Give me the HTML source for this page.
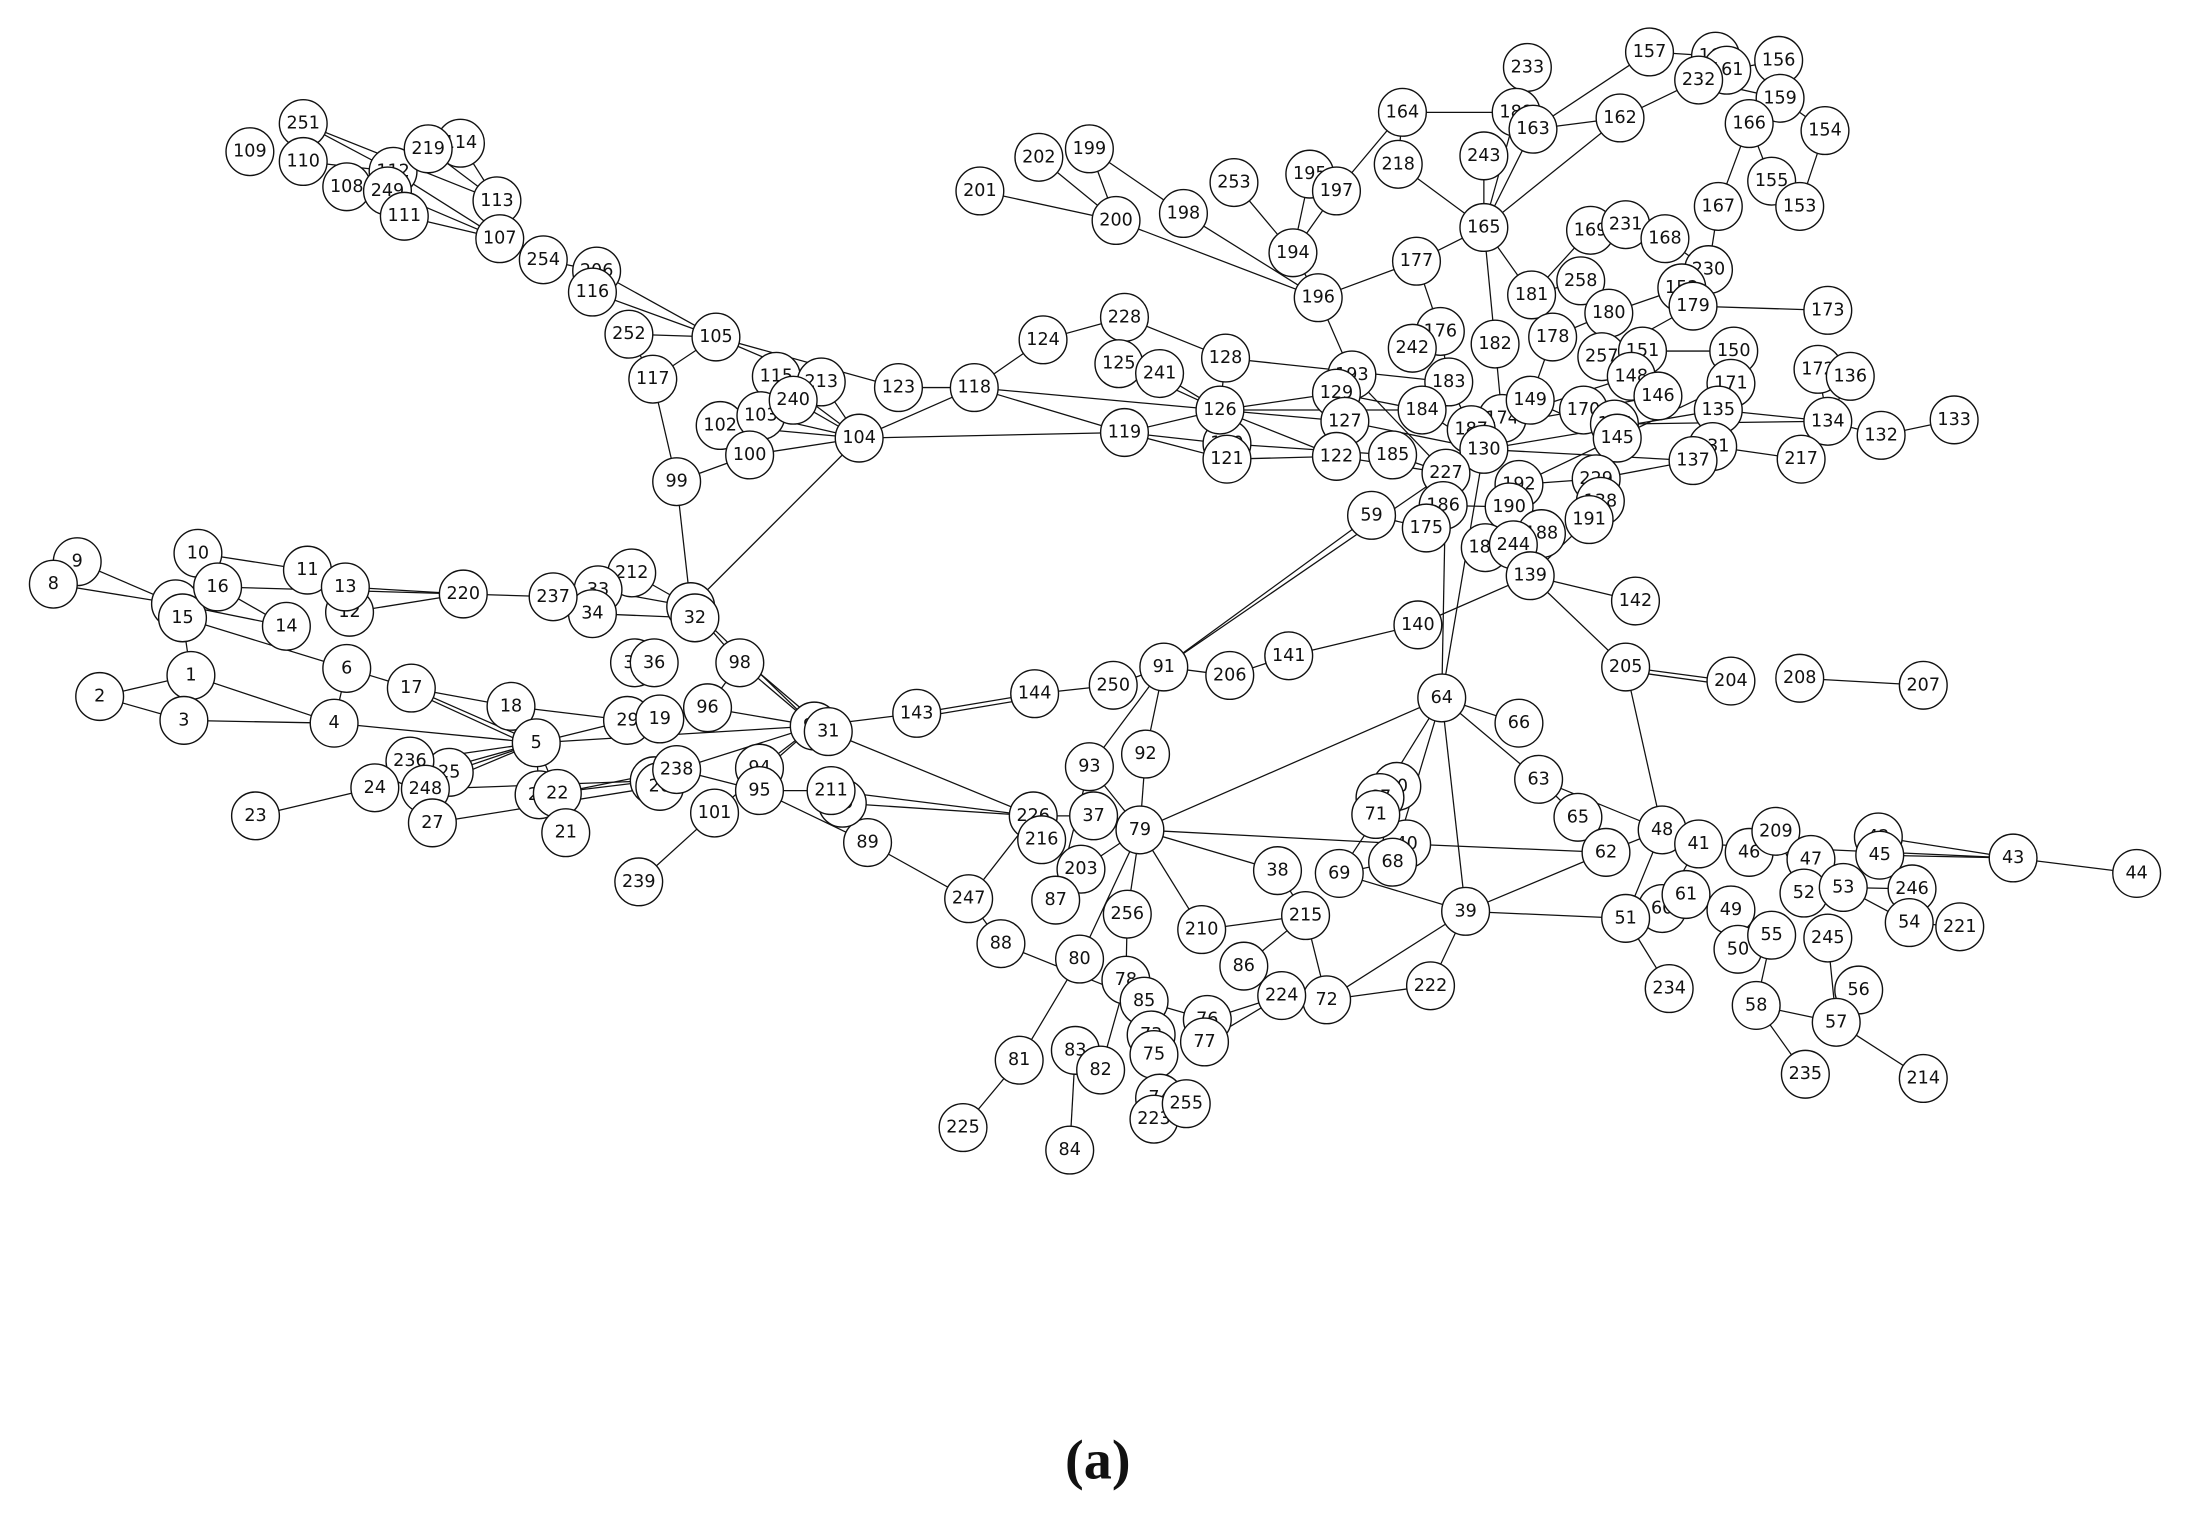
<!DOCTYPE html>
<html><head><meta charset="utf-8"><style>
html,body{margin:0;padding:0;background:#fff;}
svg{display:block}
text{font-family:"DejaVu Sans","Liberation Sans",sans-serif;font-size:12.5px;text-anchor:middle;dominant-baseline:central;fill:#111}
circle{fill:#fff;stroke:#111;stroke-width:1}
line{stroke:#111;stroke-width:0.9}
</style></head><body>
<svg width="2190" height="1525" viewBox="0 0 1560 1086" preserveAspectRatio="none">
<g>
<line x1="216" y1="88" x2="280" y2="122"/><line x1="216" y1="88" x2="354" y2="143"/><line x1="216" y1="115" x2="280" y2="122"/>
<line x1="247" y1="133" x2="280" y2="122"/><line x1="280" y1="122" x2="356" y2="170"/><line x1="276" y1="136" x2="356" y2="170"/>
<line x1="288" y1="154" x2="356" y2="170"/><line x1="305" y1="106" x2="354" y2="143"/><line x1="328" y1="102" x2="354" y2="143"/>
<line x1="305" y1="106" x2="328" y2="102"/><line x1="354" y1="143" x2="356" y2="170"/><line x1="356" y1="170" x2="387" y2="185"/>
<line x1="387" y1="185" x2="425" y2="193"/><line x1="425" y1="193" x2="510" y2="240"/><line x1="422" y1="208" x2="510" y2="240"/>
<line x1="448" y1="238" x2="510" y2="240"/><line x1="448" y1="238" x2="465" y2="270"/><line x1="510" y1="240" x2="465" y2="270"/>
<line x1="510" y1="240" x2="585" y2="272"/><line x1="510" y1="240" x2="640" y2="276"/><line x1="465" y1="270" x2="482" y2="343"/>
<line x1="482" y1="343" x2="492" y2="432"/><line x1="482" y1="343" x2="534" y2="324"/><line x1="513" y1="303" x2="542" y2="296"/>
<line x1="513" y1="303" x2="612" y2="312"/><line x1="534" y1="324" x2="612" y2="312"/><line x1="542" y1="296" x2="612" y2="312"/>
<line x1="553" y1="268" x2="612" y2="312"/><line x1="585" y1="272" x2="612" y2="312"/><line x1="565" y1="285" x2="612" y2="312"/>
<line x1="612" y1="312" x2="694" y2="276"/><line x1="612" y1="312" x2="801" y2="308"/><line x1="612" y1="312" x2="492" y2="432"/>
<line x1="640" y1="276" x2="694" y2="276"/><line x1="694" y1="276" x2="743" y2="242"/><line x1="743" y1="242" x2="801" y2="226"/>
<line x1="801" y1="226" x2="797" y2="259"/><line x1="801" y1="226" x2="873" y2="255"/><line x1="694" y1="276" x2="869" y2="292"/>
<line x1="694" y1="276" x2="801" y2="308"/><line x1="801" y1="308" x2="869" y2="292"/><line x1="801" y1="308" x2="874" y2="316"/>
<line x1="801" y1="308" x2="874" y2="327"/><line x1="797" y1="259" x2="869" y2="292"/><line x1="826" y1="266" x2="869" y2="292"/>
<line x1="873" y1="255" x2="869" y2="292"/><line x1="869" y1="292" x2="952" y2="280"/><line x1="869" y1="292" x2="958" y2="300"/>
<line x1="869" y1="292" x2="952" y2="325"/><line x1="869" y1="292" x2="1013" y2="292"/><line x1="873" y1="255" x2="1032" y2="272"/>
<line x1="874" y1="316" x2="992" y2="324"/><line x1="874" y1="327" x2="952" y2="325"/>
<line x1="698" y1="136" x2="795" y2="157"/><line x1="740" y1="112" x2="795" y2="157"/><line x1="776" y1="106" x2="795" y2="157"/>
<line x1="795" y1="157" x2="939" y2="212"/><line x1="843" y1="152" x2="939" y2="212"/><line x1="879" y1="130" x2="921" y2="180"/>
<line x1="933" y1="124" x2="921" y2="180"/><line x1="952" y1="136" x2="921" y2="180"/><line x1="933" y1="124" x2="952" y2="136"/>
<line x1="776" y1="106" x2="843" y2="152"/><line x1="921" y1="180" x2="939" y2="212"/><line x1="939" y1="212" x2="963" y2="267"/>
<line x1="939" y1="212" x2="1009" y2="186"/><line x1="999" y1="80" x2="1080" y2="80"/><line x1="999" y1="80" x2="996" y2="117"/>
<line x1="999" y1="80" x2="952" y2="136"/><line x1="996" y1="117" x2="1057" y2="162"/><line x1="1088" y1="48" x2="1080" y2="80"/>
<line x1="1080" y1="80" x2="1092" y2="92"/><line x1="1175" y1="37" x2="1092" y2="92"/><line x1="1175" y1="37" x2="1222" y2="40"/>
<line x1="1154" y1="84" x2="1092" y2="92"/><line x1="1154" y1="84" x2="1210" y2="57"/><line x1="1210" y1="57" x2="1222" y2="40"/>
<line x1="1210" y1="57" x2="1268" y2="70"/><line x1="1230" y1="50" x2="1267" y2="43"/><line x1="1267" y1="43" x2="1268" y2="70"/>
<line x1="1268" y1="70" x2="1246" y2="88"/><line x1="1268" y1="70" x2="1300" y2="93"/><line x1="1300" y1="93" x2="1282" y2="147"/>
<line x1="1246" y1="88" x2="1262" y2="129"/><line x1="1262" y1="129" x2="1282" y2="147"/><line x1="1246" y1="88" x2="1224" y2="147"/>
<line x1="1224" y1="147" x2="1217" y2="192"/><line x1="1217" y1="192" x2="1186" y2="170"/><line x1="1217" y1="192" x2="1206" y2="218"/>
<line x1="1186" y1="170" x2="1158" y2="160"/><line x1="1158" y1="160" x2="1133" y2="164"/><line x1="1133" y1="164" x2="1091" y2="210"/>
<line x1="1092" y1="92" x2="1057" y2="162"/><line x1="1057" y1="111" x2="1057" y2="162"/><line x1="1080" y1="80" x2="1057" y2="162"/>
<line x1="1057" y1="162" x2="1091" y2="210"/><line x1="1057" y1="162" x2="1065" y2="245"/><line x1="1057" y1="162" x2="1154" y2="84"/>
<line x1="1009" y1="186" x2="1057" y2="162"/><line x1="1009" y1="186" x2="1026" y2="236"/><line x1="1026" y1="236" x2="1006" y2="248"/>
<line x1="1026" y1="236" x2="1032" y2="272"/><line x1="1091" y1="210" x2="1126" y2="200"/><line x1="1126" y1="200" x2="1146" y2="223"/>
<line x1="1146" y1="223" x2="1106" y2="240"/><line x1="1146" y1="223" x2="1198" y2="205"/><line x1="1206" y1="218" x2="1302" y2="221"/>
<line x1="1206" y1="218" x2="1141" y2="254"/><line x1="1141" y1="254" x2="1170" y2="250"/><line x1="1170" y1="250" x2="1235" y2="250"/>
<line x1="1235" y1="250" x2="1233" y2="273"/><line x1="1233" y1="273" x2="1224" y2="292"/><line x1="1224" y1="292" x2="1302" y2="300"/>
<line x1="1302" y1="300" x2="1340" y2="310"/><line x1="1340" y1="310" x2="1392" y2="299"/><line x1="1295" y1="263" x2="1302" y2="300"/>
<line x1="1318" y1="268" x2="1302" y2="300"/><line x1="1302" y1="300" x2="1283" y2="327"/><line x1="1224" y1="292" x2="1220" y2="318"/>
<line x1="1220" y1="318" x2="1283" y2="327"/><line x1="1206" y1="328" x2="1137" y2="341"/><line x1="1137" y1="341" x2="1140" y2="357"/>
<line x1="1140" y1="357" x2="1132" y2="370"/><line x1="1137" y1="341" x2="1082" y2="345"/><line x1="1082" y1="345" x2="1075" y2="361"/>
<line x1="1075" y1="361" x2="1028" y2="360"/><line x1="1028" y1="360" x2="1016" y2="376"/><line x1="1016" y1="376" x2="977" y2="367"/>
<line x1="977" y1="367" x2="829" y2="475"/><line x1="1030" y1="337" x2="829" y2="475"/><line x1="1030" y1="337" x2="1027" y2="497"/>
<line x1="1057" y1="320" x2="1027" y2="497"/><line x1="1090" y1="410" x2="1010" y2="445"/>
<line x1="1010" y1="445" x2="918" y2="467"/><line x1="918" y1="467" x2="876" y2="481"/><line x1="876" y1="481" x2="829" y2="475"/>
<line x1="829" y1="475" x2="793" y2="488"/><line x1="793" y1="488" x2="737" y2="494"/><line x1="737" y1="494" x2="653" y2="508"/>
<line x1="737" y1="497" x2="653" y2="511"/><line x1="653" y1="508" x2="580" y2="517"/><line x1="829" y1="475" x2="816" y2="537"/>
<line x1="816" y1="537" x2="812" y2="591"/><line x1="776" y1="546" x2="812" y2="591"/><line x1="829" y1="475" x2="776" y2="546"/>
<line x1="779" y1="581" x2="812" y2="591"/><line x1="736" y1="581" x2="779" y2="581"/><line x1="812" y1="591" x2="910" y2="620"/>
<line x1="812" y1="591" x2="1002" y2="601"/><line x1="812" y1="591" x2="856" y2="662"/><line x1="812" y1="591" x2="803" y2="651"/>
<line x1="812" y1="591" x2="769" y2="683"/><line x1="812" y1="591" x2="1027" y2="497"/><line x1="803" y1="651" x2="802" y2="698"/>
<line x1="802" y1="698" x2="815" y2="713"/><line x1="769" y1="683" x2="726" y2="755"/><line x1="726" y1="755" x2="686" y2="803"/>
<line x1="766" y1="748" x2="762" y2="819"/><line x1="815" y1="713" x2="822" y2="751"/><line x1="815" y1="713" x2="860" y2="726"/>
<line x1="860" y1="726" x2="913" y2="709"/><line x1="858" y1="742" x2="913" y2="709"/><line x1="913" y1="709" x2="945" y2="712"/>
<line x1="945" y1="712" x2="1019" y2="702"/><line x1="1019" y1="702" x2="1044" y2="649"/><line x1="945" y1="712" x2="1044" y2="649"/>
<line x1="1044" y1="649" x2="1144" y2="607"/><line x1="1044" y1="649" x2="1158" y2="654"/><line x1="1144" y1="607" x2="1184" y2="591"/>
<line x1="1184" y1="591" x2="1096" y2="555"/><line x1="1096" y1="555" x2="1124" y2="582"/><line x1="1124" y1="582" x2="1144" y2="607"/>
<line x1="1184" y1="591" x2="1158" y2="475"/><line x1="1158" y1="475" x2="1090" y2="410"/><line x1="1158" y1="475" x2="1233" y2="485"/>
<line x1="1160" y1="478" x2="1233" y2="488"/><line x1="1282" y1="483" x2="1370" y2="488"/><line x1="1090" y1="410" x2="1165" y2="428"/>
<line x1="1210" y1="601" x2="1434" y2="611"/><line x1="1434" y1="611" x2="1522" y2="622"/><line x1="1338" y1="596" x2="1434" y2="611"/>
<line x1="1339" y1="609" x2="1434" y2="611"/><line x1="1210" y1="601" x2="1184" y2="647"/><line x1="1184" y1="591" x2="1158" y2="654"/>
<line x1="1201" y1="637" x2="1184" y2="647"/><line x1="1201" y1="637" x2="1233" y2="648"/><line x1="1233" y1="648" x2="1262" y2="666"/>
<line x1="1262" y1="666" x2="1238" y2="676"/><line x1="1262" y1="666" x2="1251" y2="716"/><line x1="1251" y1="716" x2="1308" y2="728"/>
<line x1="1308" y1="728" x2="1324" y2="705"/><line x1="1308" y1="728" x2="1370" y2="768"/><line x1="1308" y1="728" x2="1302" y2="668"/>
<line x1="1251" y1="716" x2="1286" y2="765"/><line x1="1158" y1="654" x2="1189" y2="704"/><line x1="1265" y1="592" x2="1246" y2="607"/>
<line x1="1265" y1="592" x2="1285" y2="636"/><line x1="1290" y1="612" x2="1285" y2="636"/><line x1="1313" y1="632" x2="1285" y2="636"/>
<line x1="1313" y1="632" x2="1362" y2="633"/><line x1="1362" y1="633" x2="1360" y2="657"/><line x1="1360" y1="657" x2="1396" y2="660"/>
<line x1="1313" y1="632" x2="1360" y2="657"/><line x1="1002" y1="601" x2="1144" y2="607"/><line x1="1044" y1="649" x2="954" y2="622"/>
<line x1="910" y1="620" x2="930" y2="652"/><line x1="930" y1="652" x2="886" y2="688"/><line x1="930" y1="652" x2="945" y2="712"/>
<line x1="856" y1="662" x2="930" y2="652"/><line x1="886" y1="688" x2="913" y2="709"/><line x1="954" y1="622" x2="995" y2="560"/>
<line x1="992" y1="614" x2="954" y2="622"/><line x1="1027" y1="497" x2="1082" y2="515"/><line x1="1027" y1="497" x2="1096" y2="555"/>
<line x1="1027" y1="497" x2="983" y2="568"/><line x1="1027" y1="497" x2="992" y2="614"/><line x1="1027" y1="497" x2="1044" y2="649"/>
<line x1="55" y1="400" x2="125" y2="430"/><line x1="38" y1="416" x2="125" y2="430"/><line x1="141" y1="394" x2="155" y2="418"/>
<line x1="141" y1="394" x2="219" y2="406"/><line x1="155" y1="418" x2="204" y2="446"/><line x1="219" y1="406" x2="246" y2="418"/>
<line x1="246" y1="418" x2="330" y2="423"/><line x1="155" y1="418" x2="330" y2="423"/><line x1="330" y1="423" x2="394" y2="425"/>
<line x1="249" y1="436" x2="330" y2="423"/><line x1="394" y1="425" x2="426" y2="420"/><line x1="394" y1="425" x2="422" y2="437"/>
<line x1="450" y1="408" x2="492" y2="432"/><line x1="426" y1="420" x2="492" y2="432"/><line x1="422" y1="437" x2="495" y2="440"/>
<line x1="125" y1="430" x2="204" y2="446"/><line x1="130" y1="440" x2="247" y2="476"/><line x1="136" y1="481" x2="130" y2="440"/>
<line x1="71" y1="496" x2="136" y2="481"/><line x1="71" y1="496" x2="131" y2="513"/><line x1="136" y1="481" x2="238" y2="515"/>
<line x1="131" y1="513" x2="238" y2="515"/><line x1="247" y1="476" x2="238" y2="515"/><line x1="247" y1="476" x2="293" y2="490"/>
<line x1="293" y1="490" x2="364" y2="503"/><line x1="293" y1="490" x2="382" y2="529"/><line x1="297" y1="494" x2="382" y2="533"/>
<line x1="364" y1="503" x2="382" y2="529"/><line x1="238" y1="515" x2="382" y2="529"/><line x1="364" y1="503" x2="447" y2="513"/>
<line x1="382" y1="529" x2="447" y2="513"/><line x1="382" y1="529" x2="292" y2="542"/><line x1="382" y1="529" x2="320" y2="550"/>
<line x1="382" y1="529" x2="303" y2="562"/><line x1="382" y1="529" x2="267" y2="561"/><line x1="267" y1="561" x2="182" y2="581"/>
<line x1="292" y1="542" x2="308" y2="586"/><line x1="382" y1="529" x2="384" y2="566"/><line x1="382" y1="529" x2="397" y2="565"/>
<line x1="382" y1="529" x2="580" y2="517"/><line x1="397" y1="565" x2="403" y2="593"/><line x1="384" y1="566" x2="466" y2="556"/>
<line x1="397" y1="565" x2="482" y2="548"/><line x1="303" y1="562" x2="466" y2="556"/><line x1="308" y1="586" x2="470" y2="560"/>
<line x1="447" y1="513" x2="470" y2="512"/><line x1="504" y1="504" x2="470" y2="512"/><line x1="504" y1="504" x2="527" y2="472"/>
<line x1="504" y1="504" x2="580" y2="517"/><line x1="492" y1="432" x2="527" y2="472"/><line x1="492" y1="432" x2="580" y2="517"/>
<line x1="527" y1="472" x2="580" y2="517"/><line x1="530" y1="470" x2="590" y2="521"/><line x1="580" y1="517" x2="590" y2="521"/>
<line x1="590" y1="521" x2="736" y2="581"/><line x1="541" y1="547" x2="580" y2="517"/><line x1="541" y1="563" x2="541" y2="547"/>
<line x1="541" y1="563" x2="592" y2="563"/><line x1="592" y1="563" x2="736" y2="581"/><line x1="600" y1="572" x2="736" y2="581"/>
<line x1="509" y1="579" x2="455" y2="628"/><line x1="509" y1="579" x2="580" y2="517"/><line x1="482" y1="548" x2="541" y2="563"/>
<line x1="482" y1="548" x2="580" y2="517"/><line x1="541" y1="563" x2="618" y2="600"/><line x1="618" y1="600" x2="690" y2="640"/>
<line x1="690" y1="640" x2="736" y2="581"/><line x1="752" y1="641" x2="776" y2="546"/><line x1="713" y1="672" x2="815" y2="713"/>
<line x1="713" y1="672" x2="690" y2="640"/><line x1="742" y1="598" x2="770" y2="619"/><line x1="770" y1="619" x2="812" y2="591"/>
<line x1="845" y1="786" x2="822" y2="751"/><line x1="822" y1="797" x2="815" y2="713"/><line x1="784" y1="762" x2="802" y2="698"/>
<line x1="1030" y1="337" x2="1057" y2="320"/><line x1="1030" y1="337" x2="963" y2="267"/><line x1="992" y1="324" x2="1030" y2="337"/>
<line x1="1013" y1="292" x2="1057" y2="320"/><line x1="1048" y1="306" x2="1128" y2="292"/><line x1="1090" y1="285" x2="1152" y2="312"/>
<line x1="1070" y1="298" x2="1162" y2="268"/><line x1="1057" y1="320" x2="1224" y2="292"/><line x1="1057" y1="320" x2="1206" y2="328"/>
<line x1="1082" y1="345" x2="1233" y2="273"/><line x1="1128" y1="292" x2="1181" y2="282"/><line x1="1150" y1="302" x2="1302" y2="300"/>
<line x1="1106" y1="240" x2="1090" y2="285"/><line x1="1065" y1="245" x2="1070" y2="298"/><line x1="1032" y1="272" x2="1048" y2="306"/>
<line x1="1098" y1="380" x2="1058" y2="390"/><line x1="1078" y1="388" x2="1090" y2="410"/><line x1="1132" y1="370" x2="1090" y2="410"/>
<line x1="958" y1="300" x2="1057" y2="320"/><line x1="952" y1="280" x2="1013" y2="292"/><line x1="952" y1="325" x2="1030" y2="337"/>
</g>
<g>
<circle cx="178" cy="108" r="17"/><text x="178" y="108">109</text>
<circle cx="216" cy="88" r="17"/><text x="216" y="88">251</text>
<circle cx="216" cy="115" r="17"/><text x="216" y="115">110</text>
<circle cx="247" cy="133" r="17"/><text x="247" y="133">108</text>
<circle cx="280" cy="122" r="17"/><text x="280" y="122">112</text>
<circle cx="276" cy="136" r="17"/><text x="276" y="136">249</text>
<circle cx="288" cy="154" r="17"/><text x="288" y="154">111</text>
<circle cx="328" cy="102" r="17"/><text x="328" y="102">114</text>
<circle cx="305" cy="106" r="17"/><text x="305" y="106">219</text>
<circle cx="354" cy="143" r="17"/><text x="354" y="143">113</text>
<circle cx="356" cy="170" r="17"/><text x="356" y="170">107</text>
<circle cx="387" cy="185" r="17"/><text x="387" y="185">254</text>
<circle cx="425" cy="193" r="17"/><text x="425" y="193">206</text>
<circle cx="422" cy="208" r="17"/><text x="422" y="208">116</text>
<circle cx="448" cy="238" r="17"/><text x="448" y="238">252</text>
<circle cx="510" cy="240" r="17"/><text x="510" y="240">105</text>
<circle cx="465" cy="270" r="17"/><text x="465" y="270">117</text>
<circle cx="553" cy="268" r="17"/><text x="553" y="268">115</text>
<circle cx="585" cy="272" r="17"/><text x="585" y="272">213</text>
<circle cx="513" cy="303" r="17"/><text x="513" y="303">102</text>
<circle cx="542" cy="296" r="17"/><text x="542" y="296">103</text>
<circle cx="565" cy="285" r="17"/><text x="565" y="285">240</text>
<circle cx="534" cy="324" r="17"/><text x="534" y="324">100</text>
<circle cx="612" cy="312" r="17"/><text x="612" y="312">104</text>
<circle cx="640" cy="276" r="17"/><text x="640" y="276">123</text>
<circle cx="694" cy="276" r="17"/><text x="694" y="276">118</text>
<circle cx="743" cy="242" r="17"/><text x="743" y="242">124</text>
<circle cx="801" cy="226" r="17"/><text x="801" y="226">228</text>
<circle cx="797" cy="259" r="17"/><text x="797" y="259">125</text>
<circle cx="826" cy="266" r="17"/><text x="826" y="266">241</text>
<circle cx="873" cy="255" r="17"/><text x="873" y="255">128</text>
<circle cx="801" cy="308" r="17"/><text x="801" y="308">119</text>
<circle cx="874" cy="316" r="17"/><text x="874" y="316">120</text>
<circle cx="874" cy="327" r="17"/><text x="874" y="327">121</text>
<circle cx="869" cy="292" r="17"/><text x="869" y="292">126</text>
<circle cx="482" cy="343" r="17"/><text x="482" y="343">99</text>
<circle cx="698" cy="136" r="17"/><text x="698" y="136">201</text>
<circle cx="740" cy="112" r="17"/><text x="740" y="112">202</text>
<circle cx="776" cy="106" r="17"/><text x="776" y="106">199</text>
<circle cx="795" cy="157" r="17"/><text x="795" y="157">200</text>
<circle cx="843" cy="152" r="17"/><text x="843" y="152">198</text>
<circle cx="879" cy="130" r="17"/><text x="879" y="130">253</text>
<circle cx="933" cy="124" r="17"/><text x="933" y="124">195</text>
<circle cx="952" cy="136" r="17"/><text x="952" y="136">197</text>
<circle cx="921" cy="180" r="17"/><text x="921" y="180">194</text>
<circle cx="939" cy="212" r="17"/><text x="939" y="212">196</text>
<circle cx="999" cy="80" r="17"/><text x="999" y="80">164</text>
<circle cx="996" cy="117" r="17"/><text x="996" y="117">218</text>
<circle cx="1088" cy="48" r="17"/><text x="1088" y="48">233</text>
<circle cx="1080" cy="80" r="17"/><text x="1080" y="80">188</text>
<circle cx="1092" cy="92" r="17"/><text x="1092" y="92">163</text>
<circle cx="1175" cy="37" r="17"/><text x="1175" y="37">157</text>
<circle cx="1154" cy="84" r="17"/><text x="1154" y="84">162</text>
<circle cx="1222" cy="40" r="17"/><text x="1222" y="40">160</text>
<circle cx="1230" cy="50" r="17"/><text x="1230" y="50">161</text>
<circle cx="1210" cy="57" r="17"/><text x="1210" y="57">232</text>
<circle cx="1267" cy="43" r="17"/><text x="1267" y="43">156</text>
<circle cx="1268" cy="70" r="17"/><text x="1268" y="70">159</text>
<circle cx="1246" cy="88" r="17"/><text x="1246" y="88">166</text>
<circle cx="1300" cy="93" r="17"/><text x="1300" y="93">154</text>
<circle cx="1262" cy="129" r="17"/><text x="1262" y="129">155</text>
<circle cx="1282" cy="147" r="17"/><text x="1282" y="147">153</text>
<circle cx="1224" cy="147" r="17"/><text x="1224" y="147">167</text>
<circle cx="1057" cy="111" r="17"/><text x="1057" y="111">243</text>
<circle cx="1057" cy="162" r="17"/><text x="1057" y="162">165</text>
<circle cx="1009" cy="186" r="17"/><text x="1009" y="186">177</text>
<circle cx="1133" cy="164" r="17"/><text x="1133" y="164">169</text>
<circle cx="1158" cy="160" r="17"/><text x="1158" y="160">231</text>
<circle cx="1186" cy="170" r="17"/><text x="1186" y="170">168</text>
<circle cx="1217" cy="192" r="17"/><text x="1217" y="192">230</text>
<circle cx="1091" cy="210" r="17"/><text x="1091" y="210">181</text>
<circle cx="1126" cy="200" r="17"/><text x="1126" y="200">258</text>
<circle cx="1198" cy="205" r="17"/><text x="1198" y="205">152</text>
<circle cx="1206" cy="218" r="17"/><text x="1206" y="218">179</text>
<circle cx="1146" cy="223" r="17"/><text x="1146" y="223">180</text>
<circle cx="1302" cy="221" r="17"/><text x="1302" y="221">173</text>
<circle cx="1026" cy="236" r="17"/><text x="1026" y="236">176</text>
<circle cx="1006" cy="248" r="17"/><text x="1006" y="248">242</text>
<circle cx="1065" cy="245" r="17"/><text x="1065" y="245">182</text>
<circle cx="1106" cy="240" r="17"/><text x="1106" y="240">178</text>
<circle cx="1141" cy="254" r="17"/><text x="1141" y="254">257</text>
<circle cx="1170" cy="250" r="17"/><text x="1170" y="250">151</text>
<circle cx="1235" cy="250" r="17"/><text x="1235" y="250">150</text>
<circle cx="1162" cy="268" r="17"/><text x="1162" y="268">148</text>
<circle cx="1181" cy="282" r="17"/><text x="1181" y="282">146</text>
<circle cx="1233" cy="273" r="17"/><text x="1233" y="273">171</text>
<circle cx="1295" cy="263" r="17"/><text x="1295" y="263">172</text>
<circle cx="1318" cy="268" r="17"/><text x="1318" y="268">136</text>
<circle cx="1224" cy="292" r="17"/><text x="1224" y="292">135</text>
<circle cx="1302" cy="300" r="17"/><text x="1302" y="300">134</text>
<circle cx="1340" cy="310" r="17"/><text x="1340" y="310">132</text>
<circle cx="1392" cy="299" r="17"/><text x="1392" y="299">133</text>
<circle cx="1032" cy="272" r="17"/><text x="1032" y="272">183</text>
<circle cx="963" cy="267" r="17"/><text x="963" y="267">193</text>
<circle cx="952" cy="280" r="17"/><text x="952" y="280">129</text>
<circle cx="958" cy="300" r="17"/><text x="958" y="300">127</text>
<circle cx="1013" cy="292" r="17"/><text x="1013" y="292">184</text>
<circle cx="1070" cy="298" r="17"/><text x="1070" y="298">174</text>
<circle cx="1090" cy="285" r="17"/><text x="1090" y="285">149</text>
<circle cx="1048" cy="306" r="17"/><text x="1048" y="306">187</text>
<circle cx="1128" cy="292" r="17"/><text x="1128" y="292">170</text>
<circle cx="1150" cy="302" r="17"/><text x="1150" y="302">147</text>
<circle cx="1152" cy="312" r="17"/><text x="1152" y="312">145</text>
<circle cx="1057" cy="320" r="17"/><text x="1057" y="320">130</text>
<circle cx="952" cy="325" r="17"/><text x="952" y="325">122</text>
<circle cx="992" cy="324" r="17"/><text x="992" y="324">185</text>
<circle cx="1030" cy="337" r="17"/><text x="1030" y="337">227</text>
<circle cx="1082" cy="345" r="17"/><text x="1082" y="345">192</text>
<circle cx="1137" cy="341" r="17"/><text x="1137" y="341">229</text>
<circle cx="1220" cy="318" r="17"/><text x="1220" y="318">131</text>
<circle cx="1206" cy="328" r="17"/><text x="1206" y="328">137</text>
<circle cx="1283" cy="327" r="17"/><text x="1283" y="327">217</text>
<circle cx="1140" cy="357" r="17"/><text x="1140" y="357">138</text>
<circle cx="1132" cy="370" r="17"/><text x="1132" y="370">191</text>
<circle cx="1028" cy="360" r="17"/><text x="1028" y="360">186</text>
<circle cx="1075" cy="361" r="17"/><text x="1075" y="361">190</text>
<circle cx="1016" cy="376" r="17"/><text x="1016" y="376">175</text>
<circle cx="1098" cy="380" r="17"/><text x="1098" y="380">188</text>
<circle cx="1058" cy="390" r="17"/><text x="1058" y="390">189</text>
<circle cx="1078" cy="388" r="17"/><text x="1078" y="388">244</text>
<circle cx="1090" cy="410" r="17"/><text x="1090" y="410">139</text>
<circle cx="977" cy="367" r="17"/><text x="977" y="367">59</text>
<circle cx="1165" cy="428" r="17"/><text x="1165" y="428">142</text>
<circle cx="1010" cy="445" r="17"/><text x="1010" y="445">140</text>
<circle cx="918" cy="467" r="17"/><text x="918" y="467">141</text>
<circle cx="876" cy="481" r="17"/><text x="876" y="481">206</text>
<circle cx="829" cy="475" r="17"/><text x="829" y="475">91</text>
<circle cx="793" cy="488" r="17"/><text x="793" y="488">250</text>
<circle cx="737" cy="494" r="17"/><text x="737" y="494">144</text>
<circle cx="653" cy="508" r="17"/><text x="653" y="508">143</text>
<circle cx="1158" cy="475" r="17"/><text x="1158" y="475">205</text>
<circle cx="1233" cy="485" r="17"/><text x="1233" y="485">204</text>
<circle cx="1282" cy="483" r="17"/><text x="1282" y="483">208</text>
<circle cx="1370" cy="488" r="17"/><text x="1370" y="488">207</text>
<circle cx="1027" cy="497" r="17"/><text x="1027" y="497">64</text>
<circle cx="1082" cy="515" r="17"/><text x="1082" y="515">66</text>
<circle cx="1096" cy="555" r="17"/><text x="1096" y="555">63</text>
<circle cx="1124" cy="582" r="17"/><text x="1124" y="582">65</text>
<circle cx="1184" cy="591" r="17"/><text x="1184" y="591">48</text>
<circle cx="1144" cy="607" r="17"/><text x="1144" y="607">62</text>
<circle cx="1210" cy="601" r="17"/><text x="1210" y="601">41</text>
<circle cx="1246" cy="607" r="17"/><text x="1246" y="607">46</text>
<circle cx="1265" cy="592" r="17"/><text x="1265" y="592">209</text>
<circle cx="1290" cy="612" r="17"/><text x="1290" y="612">47</text>
<circle cx="1338" cy="596" r="17"/><text x="1338" y="596">42</text>
<circle cx="1339" cy="609" r="17"/><text x="1339" y="609">45</text>
<circle cx="1434" cy="611" r="17"/><text x="1434" y="611">43</text>
<circle cx="1522" cy="622" r="17"/><text x="1522" y="622">44</text>
<circle cx="1285" cy="636" r="17"/><text x="1285" y="636">52</text>
<circle cx="1313" cy="632" r="17"/><text x="1313" y="632">53</text>
<circle cx="1362" cy="633" r="17"/><text x="1362" y="633">246</text>
<circle cx="1360" cy="657" r="17"/><text x="1360" y="657">54</text>
<circle cx="1396" cy="660" r="17"/><text x="1396" y="660">221</text>
<circle cx="1184" cy="647" r="17"/><text x="1184" y="647">60</text>
<circle cx="1201" cy="637" r="17"/><text x="1201" y="637">61</text>
<circle cx="1233" cy="648" r="17"/><text x="1233" y="648">49</text>
<circle cx="1158" cy="654" r="17"/><text x="1158" y="654">51</text>
<circle cx="1238" cy="676" r="17"/><text x="1238" y="676">50</text>
<circle cx="1262" cy="666" r="17"/><text x="1262" y="666">55</text>
<circle cx="1302" cy="668" r="17"/><text x="1302" y="668">245</text>
<circle cx="1324" cy="705" r="17"/><text x="1324" y="705">56</text>
<circle cx="1251" cy="716" r="17"/><text x="1251" y="716">58</text>
<circle cx="1308" cy="728" r="17"/><text x="1308" y="728">57</text>
<circle cx="1370" cy="768" r="17"/><text x="1370" y="768">214</text>
<circle cx="1286" cy="765" r="17"/><text x="1286" y="765">235</text>
<circle cx="1189" cy="704" r="17"/><text x="1189" y="704">234</text>
<circle cx="1044" cy="649" r="17"/><text x="1044" y="649">39</text>
<circle cx="1002" cy="601" r="17"/><text x="1002" y="601">40</text>
<circle cx="992" cy="614" r="17"/><text x="992" y="614">68</text>
<circle cx="954" cy="622" r="17"/><text x="954" y="622">69</text>
<circle cx="995" cy="560" r="17"/><text x="995" y="560">70</text>
<circle cx="983" cy="568" r="17"/><text x="983" y="568">67</text>
<circle cx="980" cy="580" r="17"/><text x="980" y="580">71</text>
<circle cx="910" cy="620" r="17"/><text x="910" y="620">38</text>
<circle cx="930" cy="652" r="17"/><text x="930" y="652">215</text>
<circle cx="1019" cy="702" r="17"/><text x="1019" y="702">222</text>
<circle cx="945" cy="712" r="17"/><text x="945" y="712">72</text>
<circle cx="913" cy="709" r="17"/><text x="913" y="709">224</text>
<circle cx="886" cy="688" r="17"/><text x="886" y="688">86</text>
<circle cx="856" cy="662" r="17"/><text x="856" y="662">210</text>
<circle cx="860" cy="726" r="17"/><text x="860" y="726">76</text>
<circle cx="858" cy="742" r="17"/><text x="858" y="742">77</text>
<circle cx="816" cy="537" r="17"/><text x="816" y="537">92</text>
<circle cx="776" cy="546" r="17"/><text x="776" y="546">93</text>
<circle cx="736" cy="581" r="17"/><text x="736" y="581">226</text>
<circle cx="742" cy="598" r="17"/><text x="742" y="598">216</text>
<circle cx="779" cy="581" r="17"/><text x="779" y="581">37</text>
<circle cx="812" cy="591" r="17"/><text x="812" y="591">79</text>
<circle cx="770" cy="619" r="17"/><text x="770" y="619">203</text>
<circle cx="752" cy="641" r="17"/><text x="752" y="641">87</text>
<circle cx="803" cy="651" r="17"/><text x="803" y="651">256</text>
<circle cx="769" cy="683" r="17"/><text x="769" y="683">80</text>
<circle cx="802" cy="698" r="17"/><text x="802" y="698">78</text>
<circle cx="815" cy="713" r="17"/><text x="815" y="713">85</text>
<circle cx="820" cy="737" r="17"/><text x="820" y="737">73</text>
<circle cx="822" cy="751" r="17"/><text x="822" y="751">75</text>
<circle cx="766" cy="748" r="17"/><text x="766" y="748">83</text>
<circle cx="784" cy="762" r="17"/><text x="784" y="762">82</text>
<circle cx="726" cy="755" r="17"/><text x="726" y="755">81</text>
<circle cx="762" cy="819" r="17"/><text x="762" y="819">84</text>
<circle cx="686" cy="803" r="17"/><text x="686" y="803">225</text>
<circle cx="826" cy="782" r="17"/><text x="826" y="782">74</text>
<circle cx="822" cy="797" r="17"/><text x="822" y="797">223</text>
<circle cx="845" cy="786" r="17"/><text x="845" y="786">255</text>
<circle cx="713" cy="672" r="17"/><text x="713" y="672">88</text>
<circle cx="690" cy="640" r="17"/><text x="690" y="640">247</text>
<circle cx="618" cy="600" r="17"/><text x="618" y="600">89</text>
<circle cx="600" cy="572" r="17"/><text x="600" y="572">30</text>
<circle cx="592" cy="563" r="17"/><text x="592" y="563">211</text>
<circle cx="541" cy="547" r="17"/><text x="541" y="547">94</text>
<circle cx="541" cy="563" r="17"/><text x="541" y="563">95</text>
<circle cx="509" cy="579" r="17"/><text x="509" y="579">101</text>
<circle cx="455" cy="628" r="17"/><text x="455" y="628">239</text>
<circle cx="466" cy="556" r="17"/><text x="466" y="556">26</text>
<circle cx="470" cy="560" r="17"/><text x="470" y="560">20</text>
<circle cx="482" cy="548" r="17"/><text x="482" y="548">238</text>
<circle cx="447" cy="513" r="17"/><text x="447" y="513">29</text>
<circle cx="470" cy="512" r="17"/><text x="470" y="512">19</text>
<circle cx="504" cy="504" r="17"/><text x="504" y="504">96</text>
<circle cx="580" cy="517" r="17"/><text x="580" y="517">90</text>
<circle cx="590" cy="521" r="17"/><text x="590" y="521">31</text>
<circle cx="527" cy="472" r="17"/><text x="527" y="472">98</text>
<circle cx="450" cy="408" r="17"/><text x="450" y="408">212</text>
<circle cx="426" cy="420" r="17"/><text x="426" y="420">33</text>
<circle cx="422" cy="437" r="17"/><text x="422" y="437">34</text>
<circle cx="492" cy="432" r="17"/><text x="492" y="432">97</text>
<circle cx="495" cy="440" r="17"/><text x="495" y="440">32</text>
<circle cx="452" cy="472" r="17"/><text x="452" y="472">35</text>
<circle cx="466" cy="472" r="17"/><text x="466" y="472">36</text>
<circle cx="394" cy="425" r="17"/><text x="394" y="425">237</text>
<circle cx="330" cy="423" r="17"/><text x="330" y="423">220</text>
<circle cx="219" cy="406" r="17"/><text x="219" y="406">11</text>
<circle cx="249" cy="436" r="17"/><text x="249" y="436">12</text>
<circle cx="246" cy="418" r="17"/><text x="246" y="418">13</text>
<circle cx="204" cy="446" r="17"/><text x="204" y="446">14</text>
<circle cx="141" cy="394" r="17"/><text x="141" y="394">10</text>
<circle cx="125" cy="430" r="17"/><text x="125" y="430">7</text>
<circle cx="130" cy="440" r="17"/><text x="130" y="440">15</text>
<circle cx="155" cy="418" r="17"/><text x="155" y="418">16</text>
<circle cx="55" cy="400" r="17"/><text x="55" y="400">9</text>
<circle cx="38" cy="416" r="17"/><text x="38" y="416">8</text>
<circle cx="247" cy="476" r="17"/><text x="247" y="476">6</text>
<circle cx="293" cy="490" r="17"/><text x="293" y="490">17</text>
<circle cx="364" cy="503" r="17"/><text x="364" y="503">18</text>
<circle cx="136" cy="481" r="17"/><text x="136" y="481">1</text>
<circle cx="71" cy="496" r="17"/><text x="71" y="496">2</text>
<circle cx="131" cy="513" r="17"/><text x="131" y="513">3</text>
<circle cx="238" cy="515" r="17"/><text x="238" y="515">4</text>
<circle cx="382" cy="529" r="17"/><text x="382" y="529">5</text>
<circle cx="320" cy="550" r="17"/><text x="320" y="550">25</text>
<circle cx="292" cy="542" r="17"/><text x="292" y="542">236</text>
<circle cx="267" cy="561" r="17"/><text x="267" y="561">24</text>
<circle cx="303" cy="562" r="17"/><text x="303" y="562">248</text>
<circle cx="182" cy="581" r="17"/><text x="182" y="581">23</text>
<circle cx="308" cy="586" r="17"/><text x="308" y="586">27</text>
<circle cx="384" cy="566" r="17"/><text x="384" y="566">28</text>
<circle cx="397" cy="565" r="17"/><text x="397" y="565">22</text>
<circle cx="403" cy="593" r="17"/><text x="403" y="593">21</text>
</g>
<text x="782" y="1040" style="font-family:'Liberation Serif',serif;font-size:40px;font-weight:bold">(a)</text>
</svg>
</body></html>
